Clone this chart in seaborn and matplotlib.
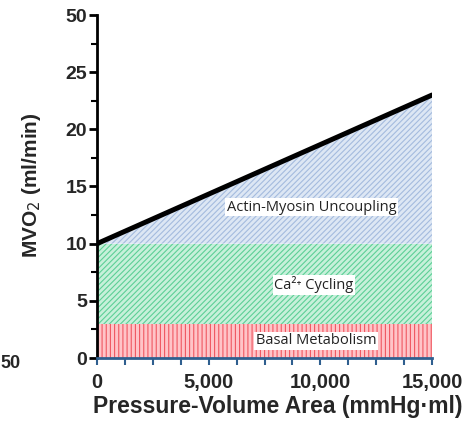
import matplotlib
matplotlib.use("Agg")
import matplotlib.pyplot as plt
import seaborn as sns
import numpy as np
import pandas as pd
from matplotlib.ticker import MultipleLocator, FixedLocator, FuncFormatter

# Data
pva = [0, 15000]
mvo2_total = [10, 23]
basal_level = 3
ca_level = 10
ytick_vals = [0, 5, 10, 15, 20, 25, 30]
ytick_labels = ["0", "5", "10", "15", "20", "25", "50"]
xtick_vals = [0, 5000, 10000, 15000]
region_labels = ["Actin-Myosin Uncoupling", "Ca²⁺ Cycling", "Basal Metabolism"]
label_x = [9600, 9700, 9800]
label_y = [13.2, 6.4, 1.5]

sns.set_style("white")
plt.rcParams['font.family'] = ['Liberation Sans', 'DejaVu Sans']
plt.rcParams['hatch.linewidth'] = 0.8

fig = plt.figure(figsize=(4.69, 4.23), dpi=100)
ax = fig.add_axes([97/469, (423-358)/423, (432-97)/469, (358-15)/423])

df = pd.DataFrame({"pva": pva, "mvo2": mvo2_total})
xs = np.array(pva, dtype=float)

# Basal (red vertical stripes)
ax.fill_between(xs, 0, basal_level, facecolor="#ffc4c8", edgecolor="#f05862",
                hatch="||||", linewidth=0, zorder=1)
# Ca cycling (green diagonal)
ax.fill_between(xs, basal_level, ca_level, facecolor="#c6f0da", edgecolor="#5ccf96",
                hatch="//////", linewidth=0, zorder=1)
# Actin-myosin (blue diagonal)
ax.fill_between(xs, ca_level, mvo2_total, facecolor="#dde7f4", edgecolor="#a4bbde",
                hatch="//////", linewidth=0, zorder=1)

sns.lineplot(data=df, x="pva", y="mvo2", color="black", linewidth=3.6, ax=ax, zorder=3)

for t, x, y in zip(region_labels, label_x, label_y):
    ax.text(x, y, t, ha="center", va="center", fontsize=10.5, color="#222222",
            family=["Open Sans", "DejaVu Sans"],
            bbox=dict(facecolor="white", edgecolor="none", pad=1.0), zorder=4)

ax.set_xlim(0, 15000)
ax.set_ylim(0, 30)

ax.yaxis.set_major_locator(FixedLocator(ytick_vals))
ax.set_yticklabels(ytick_labels)
ax.yaxis.set_minor_locator(MultipleLocator(2.5))
ax.xaxis.set_major_locator(FixedLocator(xtick_vals))
ax.xaxis.set_major_formatter(FuncFormatter(lambda v, p: f"{int(v):,}"))
ax.xaxis.set_minor_locator(MultipleLocator(1250))

for s in ["top", "right"]:
    ax.spines[s].set_visible(False)
ax.spines["left"].set_linewidth(2)
ax.spines["left"].set_color("black")
ax.spines["bottom"].set_linewidth(2)
ax.spines["bottom"].set_color("#2f5f8f")

ax.tick_params(axis="y", which="both", left=True)
ax.tick_params(axis="x", which="both", bottom=True)
ax.tick_params(axis="y", which="major", direction="out", length=6, width=2,
               color="black", labelsize=14, pad=1)
ax.tick_params(axis="y", which="minor", direction="out", length=4, width=1.5, color="black")
ax.tick_params(axis="x", which="major", direction="out", length=5, width=1.5,
               color="#2f5f8f", labelsize=14.5, pad=6)
ax.tick_params(axis="x", which="minor", direction="out", length=5, width=1.5, color="#2f5f8f")
for lbl in ax.get_xticklabels() + ax.get_yticklabels():
    lbl.set_fontweight("bold")

ax.set_xlabel("Pressure-Volume Area (mmHg·ml)", fontsize=16.5, fontweight="bold")
ax.xaxis.set_label_coords((278-97)/335, -(395-358)/343)
ax.set_ylabel("MVO$_2$ (ml/min)", fontsize=15, fontweight="bold")
ax.yaxis.set_label_coords(-(97-43)/335, (358-185)/343)

# Fragment of neighbouring panel at left edge
fig.text(0.0, (423-363)/423, "50", fontsize=13, fontweight="bold", ha="left", va="center")

fig.savefig("out.png", dpi=100)
